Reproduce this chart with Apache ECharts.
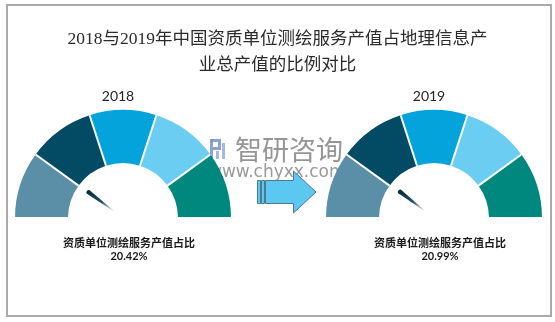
<!DOCTYPE html>
<html>
<head>
<meta charset="utf-8">
<script src="https://cdn.jsdelivr.net/npm/echarts@6/dist/echarts.min.js"></script>
<style>
  html, body { margin: 0; padding: 0; background: #fff; }
  #chart { width: 555px; height: 322px; }
</style>
</head>
<body>
<div id="chart"></div>
<script>
// Share of surveying & mapping service output in total geo-information output
const years = ['2018', '2019'];
const shares = [20.42, 20.99];
const metricName = '资质单位测绘服务产值占比';
const chartTitle = '2018与2019年中国资质单位测绘服务产值占地理信息产\n业总产值的比例对比';

// Five equal colour bands of the dial, left to right
const bandStops = [0.2, 0.4, 0.6, 0.8, 1];
const bandColors = ['#5b8fa7', '#034b64', '#04a3dc', '#6bcdf2', '#00877e'];

const gaugeCenters = [[123, 218], [434, 218]];
const gaugeRadius = 108;
const bandWidth = 53;

const chart = echarts.init(document.getElementById('chart'), null, { renderer: 'canvas' });

const needleColor = new echarts.graphic.LinearGradient(0, 0, 0, 1, [
  { offset: 0, color: '#082c3b' },
  { offset: 0.55, color: '#1d4d60' },
  { offset: 1, color: 'rgba(40,80,100,0.08)' }
]);

const series = years.map((y, i) => ({
  type: 'gauge',
  center: gaugeCenters[i],
  radius: gaugeRadius,
  startAngle: 180,
  endAngle: 0,
  min: 0,
  max: 100,
  splitNumber: 5,
  axisLine: {
    lineStyle: {
      width: bandWidth,
      color: bandStops.map((s, k) => [s, bandColors[k]])
    }
  },
  splitLine: {
    distance: -bandWidth,
    length: bandWidth,
    lineStyle: { color: '#ffffff', width: 2 }
  },
  axisTick: { show: false },
  axisLabel: { show: false },
  progress: { show: false },
  anchor: { show: false },
  pointer: {
    icon: 'path://M2,0 C3.1,0 4,0.9 4,2 L2.3,40 L1.7,40 L0,2 C0,0.9 0.9,0 2,0 Z',
    length: 33,
    width: 4.5,
    offsetCenter: [0, -12],
    itemStyle: { color: needleColor }
  },
  title: {
    offsetCenter: [6, 25],
    fontSize: 11,
    fontWeight: 'bold',
    color: '#1a1a1a',
    fontFamily: '"Noto Sans CJK SC", sans-serif'
  },
  detail: {
    offsetCenter: [6, 38],
    fontSize: 11,
    fontWeight: 'bold',
    color: '#1a1a1a',
    fontFamily: 'Lato, sans-serif',
    formatter: v => v.toFixed(2) + '%'
  },
  data: [{ value: shares[i], name: metricName }]
}));

// Year captions above each dial
const yearLabels = years.map((y, i) => ({
  type: 'text',
  x: gaugeCenters[i][0] - 5,
  y: 96,
  z: 5,
  style: {
    text: y,
    fontSize: 14,
    fontFamily: 'Lato, sans-serif',
    fill: '#262626',
    textAlign: 'center',
    textVerticalAlign: 'middle'
  }
}));

const option = {
  animation: false,
  backgroundColor: '#ffffff',
  title: {
    text: chartTitle,
    left: 'center',
    top: 21,
    textStyle: {
      fontSize: 17.5,
      fontWeight: 'normal',
      lineHeight: 26,
      color: '#2b2b2b',
      fontFamily: '"Liberation Serif", "Noto Sans CJK SC", serif'
    }
  },
  series: series,
  graphic: [
    // outer frame
    {
      type: 'rect',
      z: 1,
      shape: { x: 7, y: 5, width: 544, height: 311 },
      style: { fill: null, stroke: '#a9a9a9', lineWidth: 2 }
    },
    ...yearLabels,
    // arrow from the first dial to the second
    {
      type: 'rect', z: 5,
      shape: { x: 257.5, y: 180.5, width: 3, height: 23 },
      style: { fill: '#5cc8f2', stroke: '#4b7a92', lineWidth: 1 }
    },
    {
      type: 'rect', z: 5,
      shape: { x: 261.5, y: 180.5, width: 3, height: 23 },
      style: { fill: '#5cc8f2', stroke: '#4b7a92', lineWidth: 1 }
    },
    {
      type: 'polygon', z: 5,
      shape: { points: [[265.5, 180.5], [293.5, 180.5], [293.5, 171], [316, 192], [293.5, 213], [293.5, 203.5], [265.5, 203.5]] },
      style: { fill: '#5cc8f2', stroke: '#4b7a92', lineWidth: 1 }
    },
    // brand mark
    {
      type: 'group', z: 20,
      children: [
        { type: 'rect', shape: { x: 210, y: 139, width: 3, height: 20 }, style: { fill: 'rgba(120,145,205,0.85)' } },
        { type: 'polyline', shape: { points: [[211.5, 140.5], [219.5, 140.5], [219.5, 148.5], [213, 148.5]] }, style: { stroke: 'rgba(120,145,205,0.85)', lineWidth: 3, fill: null } },
        { type: 'rect', shape: { x: 222, y: 143, width: 3, height: 16 }, style: { fill: 'rgba(150,170,220,0.85)' } },
        { type: 'rect', shape: { x: 216, y: 151, width: 3, height: 8 }, style: { fill: 'rgba(150,170,220,0.85)' } },
        {
          type: 'text', x: 235, y: 150,
          style: {
            text: '智研咨询', fontSize: 27, fontFamily: '"Noto Sans CJK SC", sans-serif',
            fill: 'rgba(130,130,130,0.85)', textVerticalAlign: 'middle'
          }
        },
        {
          type: 'text', x: 208, y: 173,
          style: {
            text: 'www.chyxx.com', fontSize: 17, fontFamily: '"DejaVu Sans", sans-serif',
            fill: 'rgba(135,135,135,0.85)', textVerticalAlign: 'middle'
          }
        }
      ]
    }
  ]
};

chart.setOption(option);
</script>
</body>
</html>
